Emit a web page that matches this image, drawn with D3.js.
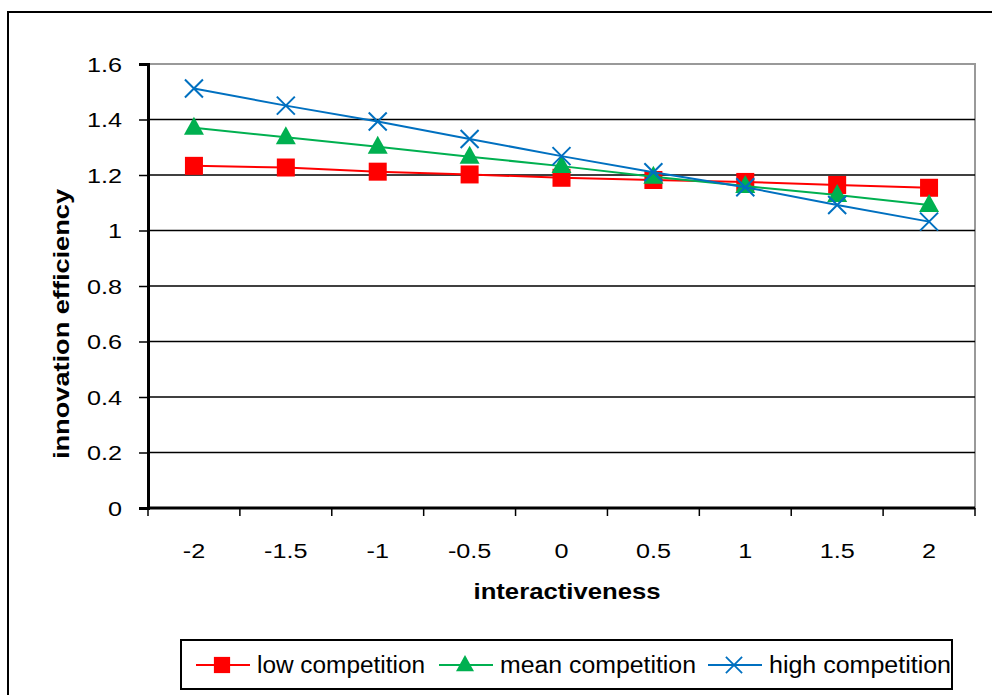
<!DOCTYPE html>
<html>
<head>
<meta charset="utf-8">
<script src="https://cdn.jsdelivr.net/npm/d3@7"></script>
<style>
  body { margin: 0; background: #fff; }
  text { font-family: "Liberation Sans", Arial, sans-serif; fill: #000; }
</style>
</head>
<body>
<div id="chart"></div>
<script>
var categories = ['-2', '-1.5', '-1', '-0.5', '0', '0.5', '1', '1.5', '2'];
var lowCompetition = [1.233, 1.227, 1.212, 1.202, 1.190, 1.182, 1.175, 1.164, 1.154];
var meanCompetition = [1.370, 1.336, 1.302, 1.266, 1.232, 1.194, 1.160, 1.128, 1.092];
var highCompetition = [1.512, 1.450, 1.393, 1.330, 1.268, 1.210, 1.156, 1.092, 1.032];
var yTicks = [0, 0.2, 0.4, 0.6, 0.8, 1, 1.2, 1.4, 1.6];

var series = [
  { name: 'low competition', values: lowCompetition, color: '#ff0000', marker: 'square' },
  { name: 'mean competition', values: meanCompetition, color: '#00b050', marker: 'triangle' },
  { name: 'high competition', values: highCompetition, color: '#0070c0', marker: 'cross' }
];

var width = 992, height = 695,
  plotLeft = 148, plotRight = 975, plotTop = 64, plotBottom = 508,
  wide = 1.2; // the source picture's text is stretched sideways

var svg = d3.select('#chart').append('svg')
  .attr('width', width).attr('height', height);

// outer chart border
svg.append('rect')
  .attr('x', 8).attr('y', 12)
  .attr('width', 1000).attr('height', 700)
  .style('fill', 'none').style('stroke', '#000').style('stroke-width', 2);

var x = d3.scaleBand().domain(categories).range([plotLeft, plotRight]);
var y = d3.scaleLinear().domain([0, 1.6]).range([plotBottom, plotTop]);

// plot area border (top / right in grey)
svg.append('rect')
  .attr('x', plotLeft).attr('y', plotTop)
  .attr('width', plotRight - plotLeft).attr('height', plotBottom - plotTop)
  .style('fill', 'none').style('stroke', '#999').style('stroke-width', 2);

// gridlines
svg.append('g')
  .selectAll('line')
  .data(yTicks.filter(function(d) { return d > 0 && d < 1.6; }))
  .enter()
  .append('line')
  .attr('x1', plotLeft).attr('x2', plotRight)
  .attr('y1', function(d) { return y(d); })
  .attr('y2', function(d) { return y(d); })
  .style('stroke', '#000').style('stroke-width', 1.5);

// y axis
var yAxis = svg.append('g')
  .attr('transform', 'translate(' + plotLeft + ',0)')
  .call(d3.axisLeft(y).tickValues(yTicks).tickSize(9)
    .tickFormat(function(d) { return String(d); }));
yAxis.select('.domain').style('stroke-width', 3);
yAxis.selectAll('.tick line').style('stroke-width', 1.5);
yAxis.selectAll('.tick text')
  .attr('x', 0).attr('dy', '0.35em')
  .attr('transform', 'translate(-26,0) scale(' + wide + ',1)')
  .style('font-size', '21px')
  .style('font-family', '"Liberation Sans", Arial, sans-serif');

// x axis with ticks between categories
var xAxis = svg.append('g')
  .attr('transform', 'translate(0,' + plotBottom + ')');
xAxis.append('line')
  .attr('x1', plotLeft).attr('x2', plotRight)
  .style('stroke', '#000').style('stroke-width', 3);
xAxis.selectAll('line.tick')
  .data(d3.range(categories.length + 1))
  .enter()
  .append('line')
  .classed('tick', true)
  .attr('x1', function(i) { return plotLeft + i * x.step(); })
  .attr('x2', function(i) { return plotLeft + i * x.step(); })
  .attr('y1', 0).attr('y2', 8)
  .style('stroke', '#000').style('stroke-width', 1.5);
xAxis.selectAll('text')
  .data(categories)
  .enter()
  .append('text')
  .attr('transform', function(d) {
    return 'translate(' + (x(d) + x.bandwidth() / 2) + ',50) scale(' + wide + ',1)';
  })
  .attr('text-anchor', 'middle')
  .style('font-size', '21px')
  .text(function(d) { return d; });

// axis titles
svg.append('text')
  .attr('x', 567).attr('y', 599)
  .attr('text-anchor', 'middle')
  .style('font-size', '22px').style('font-weight', 'bold')
  .attr('textLength', 187).attr('lengthAdjust', 'spacingAndGlyphs')
  .text('interactiveness');

svg.append('text')
  .attr('transform', 'translate(69,324) rotate(-90)')
  .attr('text-anchor', 'middle')
  .style('font-size', '22px').style('font-weight', 'bold')
  .attr('textLength', 270).attr('lengthAdjust', 'spacingAndGlyphs')
  .text('innovation efficiency');

function drawMarker(g, type, color) {
  if (type === 'square') {
    g.append('rect').attr('x', -9).attr('y', -9).attr('width', 18).attr('height', 18)
      .style('fill', color);
  } else if (type === 'triangle') {
    g.append('path').attr('d', 'M0,-11L10,7L-10,7Z').style('fill', color);
  } else {
    g.append('path').attr('d', 'M-9,-9L9,9M-9,9L9,-9')
      .style('stroke', color).style('stroke-width', 2).style('fill', 'none');
  }
}

var line = d3.line()
  .x(function(d, i) { return x(categories[i]) + x.bandwidth() / 2; })
  .y(function(d) { return y(d); });

series.forEach(function(s) {
  var g = svg.append('g');
  g.append('path')
    .datum(s.values)
    .attr('d', line)
    .style('fill', 'none').style('stroke', s.color).style('stroke-width', 2);
  g.selectAll('g.marker')
    .data(s.values)
    .enter()
    .append('g')
    .classed('marker', true)
    .attr('transform', function(d, i) {
      return 'translate(' + (x(categories[i]) + x.bandwidth() / 2) + ',' + y(d) + ')';
    })
    .each(function() { drawMarker(d3.select(this), s.marker, s.color); });
});

// legend
var legend = svg.append('g');
legend.append('rect')
  .attr('x', 181).attr('y', 640).attr('width', 771).attr('height', 49)
  .style('fill', '#fff').style('stroke', '#000').style('stroke-width', 2);
var legendX = [196, 439, 708],
  legendTextW = [168, 196, 182];
series.forEach(function(s, i) {
  var item = legend.append('g').attr('transform', 'translate(' + legendX[i] + ',665)');
  item.append('line').attr('x1', 0).attr('x2', 54)
    .style('stroke', s.color).style('stroke-width', 2);
  var m = item.append('g').attr('transform', 'translate(26,0) scale(0.9)');
  drawMarker(m, s.marker, s.color);
  item.append('text')
    .attr('x', 61).attr('y', 0).attr('dy', '0.35em')
    .style('font-size', '23px')
    .attr('textLength', legendTextW[i])
    .attr('lengthAdjust', 'spacingAndGlyphs')
    .text(s.name);
});
</script>
</body>
</html>
